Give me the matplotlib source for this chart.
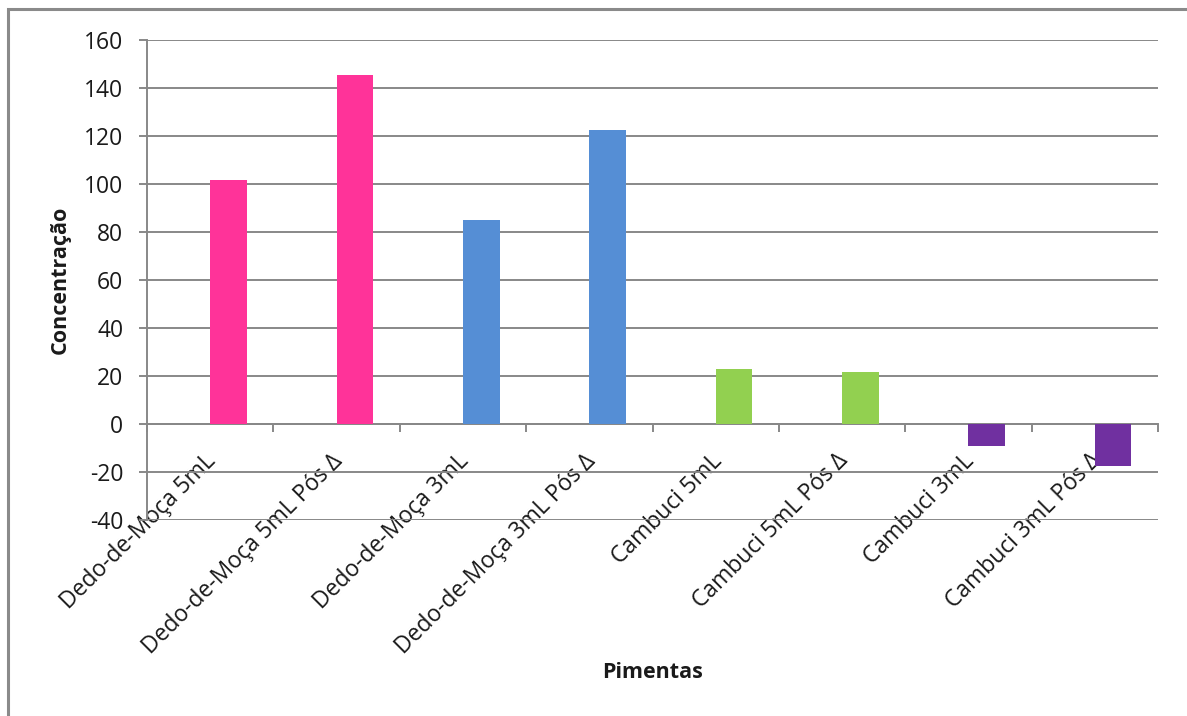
import matplotlib
matplotlib.use("Agg")
import matplotlib.pyplot as plt
import numpy as np
from matplotlib.patches import Rectangle
from matplotlib.transforms import ScaledTranslation

categories = [
    "Dedo-de-Moça 5mL", "Dedo-de-Moça 5mL Pós Δ",
    "Dedo-de-Moça 3mL", "Dedo-de-Moça 3mL Pós Δ",
    "Cambuci 5mL", "Cambuci 5mL Pós Δ",
    "Cambuci 3mL", "Cambuci 3mL Pós Δ",
]
values = [101.5, 145.5, 85, 122.5, 23, 21.5, -9, -17.5]
colors = ["#FF3399", "#FF3399", "#558ED5", "#558ED5",
          "#92D050", "#92D050", "#7030A0", "#7030A0"]
yticks = list(range(-40, 161, 20))

plt.rcParams["font.family"] = ["Open Sans", "DejaVu Sans"]
GRID = "#888888"
W, H = 1187, 716

fig = plt.figure(figsize=(W / 100, H / 100), dpi=100)
fig.patch.set_facecolor("white")

# outer chart border (runs off the right/bottom edge like the screenshot)
fig.patches.append(Rectangle((8 / W, -0.1), 1.2, 1 - 9 / H + 0.1,
                             transform=fig.transFigure, fill=False,
                             edgecolor="#8a8a8a", lw=2.2))

ax = fig.add_axes([147 / W, 1 - 520 / H, (1158 - 147) / W, 480 / H])
x = np.arange(len(categories))
ax.bar(x, values, width=0.29, align="edge", color=colors, zorder=3)

ax.set_xlim(-0.5, len(categories) - 0.5)
ax.set_ylim(-40, 160)
ax.set_yticks(yticks)
ax.set_yticklabels([str(v) for v in yticks], fontsize=16.5, color="#1a1a1a")
ax.yaxis.grid(True, color=GRID, lw=1.4, zorder=0)
ax.set_axisbelow(True)

for s in ("top", "right"):
    ax.spines[s].set_visible(False)
ax.spines["left"].set_color(GRID)
ax.spines["left"].set_linewidth(1.4)
ax.spines["bottom"].set_position(("data", 0))
ax.spines["bottom"].set_color(GRID)
ax.spines["bottom"].set_linewidth(1.4)
ax.tick_params(axis="y", length=6, width=1.4, color=GRID, pad=11)

ax.set_xticks(x)
ax.set_xticks(np.arange(-0.5, len(categories)), minor=True)
ax.set_xticklabels(categories, rotation=45, ha="right", va="top",
                   rotation_mode="anchor", fontsize=16.5, color="#1a1a1a")
ax.tick_params(axis="x", which="major", length=0, pad=18)
ax.tick_params(axis="x", which="minor", length=6, width=1.4, color=GRID)
for lbl in ax.get_xticklabels():
    lbl.set_transform(lbl.get_transform() + ScaledTranslation(-0.06, 0, fig.dpi_scale_trans))

fig.text(60 / W, 1 - 280 / H, "Concentração", rotation=90, fontsize=15.5,
         fontweight="bold", ha="center", va="center", color="#1a1a1a")
fig.text(653 / W, 1 - 673 / H, "Pimentas", fontsize=15.5,
         fontweight="bold", ha="center", va="center", color="#1a1a1a")

fig.savefig("out.png", dpi=100, facecolor=fig.get_facecolor())
